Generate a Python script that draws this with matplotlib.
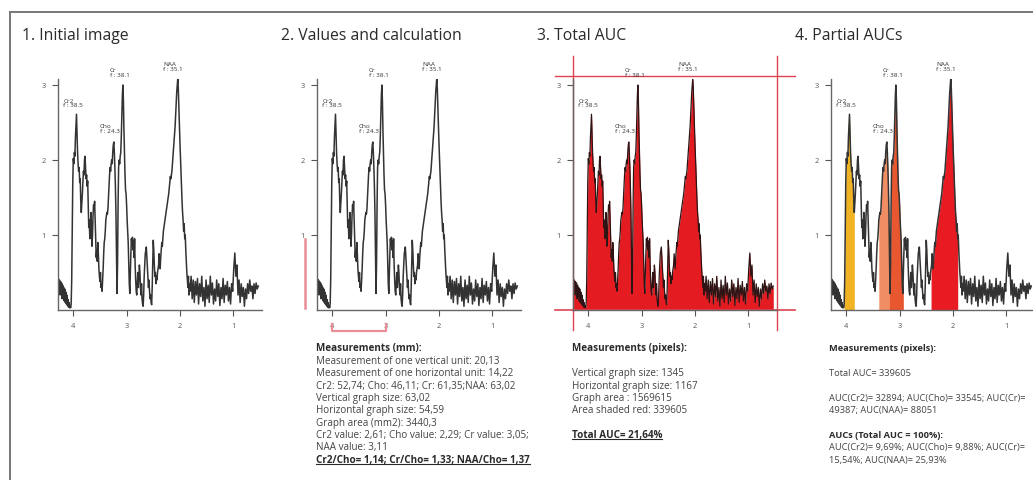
import matplotlib
matplotlib.use("Agg")
import matplotlib.pyplot as plt
import matplotlib.transforms as mtransforms
from matplotlib.lines import Line2D
import numpy as np

plt.rcParams['font.family'] = ['Open Sans', 'DejaVu Sans']

W, H = 1033, 481

# ---------------- data ----------------
ppm_values = [
    4.29, 4.28, 4.27, 4.26, 4.25, 4.24, 4.23, 4.22, 4.21, 4.20,
    4.19, 4.18, 4.17, 4.16, 4.15, 4.14, 4.13, 4.12, 4.11, 4.10,
    4.09, 4.08, 4.07, 4.06, 4.05, 4.04, 4.03, 4.02, 4.01, 4.00,
    3.99, 3.98, 3.97, 3.96, 3.95, 3.94, 3.93, 3.92, 3.91, 3.90,
    3.89, 3.88, 3.87, 3.86, 3.85, 3.84, 3.83, 3.82, 3.81, 3.80,
    3.79, 3.78, 3.77, 3.76, 3.75, 3.74, 3.73, 3.72, 3.71, 3.70,
    3.69, 3.68, 3.67, 3.66, 3.65, 3.64, 3.63, 3.62, 3.61, 3.60,
    3.59, 3.58, 3.57, 3.56, 3.55, 3.54, 3.53, 3.52, 3.51, 3.50,
    3.49, 3.48, 3.47, 3.46, 3.45, 3.44, 3.43, 3.42, 3.41, 3.40,
    3.39, 3.38, 3.37, 3.36, 3.35, 3.34, 3.33, 3.32, 3.31, 3.30,
    3.29, 3.28, 3.27, 3.26, 3.25, 3.24, 3.23, 3.22, 3.21, 3.20,
    3.19, 3.18, 3.17, 3.16, 3.15, 3.14, 3.13, 3.12, 3.11, 3.10,
    3.09, 3.08, 3.07, 3.06, 3.05, 3.04, 3.03, 3.02, 3.01, 3.00,
    2.99, 2.98, 2.97, 2.96, 2.95, 2.94, 2.93, 2.92, 2.91, 2.90,
    2.89, 2.88, 2.87, 2.86, 2.85, 2.84, 2.83, 2.82, 2.81, 2.80,
    2.79, 2.78, 2.77, 2.76, 2.75, 2.74, 2.73, 2.72, 2.71, 2.70,
    2.69, 2.68, 2.67, 2.66, 2.65, 2.64, 2.63, 2.62, 2.61, 2.60,
    2.59, 2.58, 2.57, 2.56, 2.55, 2.54, 2.53, 2.52, 2.51, 2.50,
    2.49, 2.48, 2.47, 2.46, 2.45, 2.44, 2.43, 2.42, 2.41, 2.40,
    2.39, 2.38, 2.37, 2.36, 2.35, 2.34, 2.33, 2.32, 2.31, 2.30,
    2.29, 2.28, 2.27, 2.26, 2.25, 2.24, 2.23, 2.22, 2.21, 2.20,
    2.19, 2.18, 2.17, 2.16, 2.15, 2.14, 2.13, 2.12, 2.11, 2.10,
    2.09, 2.08, 2.07, 2.06, 2.05, 2.04, 2.03, 2.02, 2.01, 2.00,
    1.99, 1.98, 1.97, 1.96, 1.95, 1.94, 1.93, 1.92, 1.91, 1.90,
    1.89, 1.88, 1.87, 1.86, 1.85, 1.84, 1.83, 1.82, 1.81,
    1.79, 1.77, 1.75, 1.73, 1.71, 1.69, 1.67, 1.65, 1.63, 1.61,
    1.59, 1.57, 1.55, 1.53, 1.51, 1.49, 1.47, 1.45, 1.43, 1.41,
    1.39, 1.37, 1.35, 1.33, 1.31, 1.29, 1.27, 1.25, 1.23, 1.21,
    1.19, 1.17, 1.15, 1.13, 1.11, 1.09, 1.07, 1.05, 1.03, 1.01,
    0.99, 0.97, 0.95, 0.93, 0.91, 0.89, 0.87, 0.85, 0.83, 0.81,
    0.79, 0.77, 0.75, 0.73, 0.71, 0.69, 0.67, 0.65, 0.63, 0.61,
    0.59, 0.57, 0.55, 0.53,
]

intensity_values = [
    0.28, 0.42, 0.25, 0.40, 0.20, 0.38, 0.22, 0.36, 0.15, 0.33,
    0.18, 0.30, 0.12, 0.28, 0.10, 0.24, 0.08, 0.20, 0.06, 0.14,
    0.04, 0.10, 0.03, 0.06, 0.03, 0.08, 0.40, 1.00, 1.70, 2.02,
    1.95, 2.10, 2.05, 2.30, 2.45, 2.61, 2.35, 2.10, 1.95, 1.85,
    1.90, 1.70, 1.75, 1.45, 1.30, 1.42, 1.55, 1.70, 1.85, 1.80,
    2.00, 2.05, 1.90, 1.75, 1.80, 1.65, 1.72, 1.40, 1.10, 1.20,
    0.95, 1.05, 1.30, 1.15, 0.85, 1.00, 1.25, 1.40, 1.35, 1.45,
    1.20, 0.95, 0.70, 0.80, 0.65, 0.90, 0.75, 0.55, 0.45, 0.38,
    0.50, 0.30, 0.35, 0.25, 0.40, 0.55, 0.75, 0.90, 0.95, 1.05,
    1.20, 1.25, 1.30, 1.28, 1.35, 1.50, 1.65, 1.80, 1.90, 1.85,
    1.95, 2.00, 1.95, 2.10, 2.20, 2.24, 2.10, 1.90, 1.65, 1.30,
    0.70, 0.22, 0.60, 1.40, 1.90, 2.00, 1.95, 2.05, 2.10, 2.30,
    2.60, 2.85, 3.00, 2.80, 2.40, 2.10, 1.80, 1.60, 1.55, 1.40,
    1.20, 1.05, 0.90, 0.60, 0.35, 0.22, 0.50, 0.75, 0.95, 0.85,
    0.97, 0.80, 0.92, 0.70, 0.95, 0.60, 0.40, 0.25, 0.20, 0.35,
    0.50, 0.30, 0.45, 0.60, 0.50, 0.30, 0.20, 0.35, 0.15, 0.08,
    0.05, 0.20, 0.45, 0.60, 0.75, 0.80, 0.84, 0.70, 0.55, 0.44,
    0.30, 0.40, 0.25, 0.15, 0.20, 0.10, 0.07, 0.30, 0.65, 0.93,
    0.80, 0.60, 0.45, 0.50, 0.35, 0.45, 0.40, 0.50, 0.55, 0.60,
    0.75, 0.65, 0.55, 0.70, 0.80, 0.90, 0.85, 0.95, 1.05, 1.10,
    1.15, 1.20, 1.25, 1.30, 1.35, 1.40, 1.45, 1.50, 1.55, 1.62,
    1.70, 1.78, 1.75, 1.80, 1.85, 1.95, 2.05, 2.15, 2.25, 2.35,
    2.45, 2.60, 2.75, 2.90, 3.00, 3.09, 2.95, 2.70, 2.45, 2.25,
    2.05, 1.85, 1.65, 1.45, 1.30, 1.20, 1.05, 1.15, 0.95, 1.00,
    0.80, 0.65, 0.50, 0.40, 0.30, 0.45, 0.20, 0.35, 0.25,
    0.45, 0.15, 0.40, 0.10, 0.38, 0.20, 0.42, 0.08, 0.35, 0.18,
    0.45, 0.12, 0.30, 0.05, 0.40, 0.15, 0.33, 0.10, 0.45, 0.20,
    0.36, 0.08, 0.28, 0.12, 0.40, 0.18, 0.35, 0.06, 0.30, 0.15,
    0.42, 0.10, 0.33, 0.20, 0.38, 0.12, 0.30, 0.08, 0.35, 0.25,
    0.55, 0.76, 0.45, 0.60, 0.20, 0.40, 0.10, 0.35, 0.18, 0.30,
    0.05, 0.28, 0.15, 0.35, 0.22, 0.40, 0.25, 0.32, 0.15, 0.35,
    0.22, 0.36, 0.28, 0.32,
]

peak_names = ["Cr2", "Cho", "Cr", "NAA"]
peak_f = ["38.5", "24.3", "38.1", "35.1"]
peak_label_ppm = [4.19, 3.50, 3.31, 2.31]
peak_label_val = [2.70, 2.36, 3.11, 3.19]

x_ticks = [4, 3, 2, 1]
y_ticks = [1, 2, 3]

partial_ranges = [(4.04, 3.85), (3.39, 3.19), (3.19, 2.93), (2.41, 1.91)]
partial_colors = ["#f0b323", "#f08d62", "#e8572f", "#e81b22"]

titles = ["1. Initial image", "2. Values and calculation", "3. Total AUC", "4. Partial AUCs"]

text_panel2 = [
    ("Measurements (mm):", "bold"),
    ("Measurement of one vertical unit: 20,13", "normal"),
    ("Measurement of one horizontal unit: 14,22", "normal"),
    ("Cr2: 52,74; Cho: 46,11; Cr: 61,35;NAA: 63,02", "normal"),
    ("Vertical graph size: 63,02", "normal"),
    ("Horizontal graph size: 54,59", "normal"),
    ("Graph area (mm2): 3440,3", "normal"),
    ("Cr2 value: 2,61; Cho value: 2,29; Cr value: 3,05;", "normal"),
    ("NAA value: 3,11", "normal"),
    ("Cr2/Cho= 1,14; Cr/Cho= 1,33; NAA/Cho= 1,37", "underline"),
]
text_panel3 = [
    ("Measurements (pixels):", "bold"),
    ("", "normal"),
    ("Vertical graph size: 1345", "normal"),
    ("Horizontal graph size: 1167", "normal"),
    ("Graph area : 1569615", "normal"),
    ("Area shaded red: 339605", "normal"),
    ("", "normal"),
    ("Total AUC= 21,64%", "underline"),
]
text_panel4 = [
    ("Measurements (pixels):", "bold"),
    ("", "normal"),
    ("Total AUC= 339605", "normal"),
    ("", "normal"),
    ("AUC(Cr2)= 32894; AUC(Cho)= 33545; AUC(Cr)=", "normal"),
    ("49387; AUC(NAA)= 88051", "normal"),
    ("", "normal"),
    ("AUCs (Total AUC = 100%):", "bold"),
    ("AUC(Cr2)= 9,69%; AUC(Cho)= 9,88%; AUC(Cr)=", "normal"),
    ("15,54%; AUC(NAA)= 25,93%", "normal"),
]

# ---------------- figure ----------------
fig = plt.figure(figsize=(W / 100, H / 100), dpi=100)
fig.patch.set_facecolor("white")

ppm = np.array(ppm_values)
inten = np.array(intensity_values)

LINE_C = "#333333"
AX_BOTTOM = 311
AX_H = 231
AX_W = 204
panel_left = [58, 317, 573, 831]
title_x = [22, 281, 537, 795]
XL = (4.287, 0.46)
YL = (0, 3.08)


def make_axes(left_px):
    ax = fig.add_axes([left_px / W, (H - AX_BOTTOM) / H, AX_W / W, AX_H / H])
    ax.set_xlim(*XL)
    ax.set_ylim(*YL)
    ax.patch.set_alpha(0)
    for s in ["top", "right"]:
        ax.spines[s].set_visible(False)
    for s in ["left", "bottom"]:
        ax.spines[s].set_color("#666666")
        ax.spines[s].set_linewidth(1.0)
    ax.set_xticks(x_ticks)
    ax.set_yticks(y_ticks)
    ax.set_xticklabels([str(t) for t in x_ticks])
    ax.set_yticklabels([str(t) for t in y_ticks])
    ax.tick_params(direction="out", length=4, width=0.8, colors="#555555",
                   labelsize=5.3, pad=5)
    return ax


def peak_labels(ax):
    for name, f, xp, yv in zip(peak_names, peak_f, peak_label_ppm, peak_label_val):
        ax.text(xp, yv, f"{name}\nf : {f}", fontsize=4.6, ha="left", va="bottom",
                color="#333333", linespacing=0.95, clip_on=False)


axes = [make_axes(l) for l in panel_left]

# Panel 1
ax1 = axes[0]
ax1.plot(ppm, inten, color=LINE_C, lw=1.1)
peak_labels(ax1)

# Panel 2
ax2 = axes[1]
ax2.plot(ppm, inten, color=LINE_C, lw=1.1)
peak_labels(ax2)
pink = "#e98e97"
trans2 = mtransforms.blended_transform_factory(ax2.transAxes, ax2.transData)
ax2.plot([-0.059, -0.059], [0.03, 0.95], color=pink, lw=1.8, transform=trans2, clip_on=False)
trans2b = mtransforms.blended_transform_factory(ax2.transData, ax2.transAxes)
ax2.plot([4.0, 4.0, 3.0, 3.0], [-0.06, -0.092, -0.092, -0.06], color=pink, lw=1.6,
         transform=trans2b, clip_on=False)

# Panel 3
ax3 = axes[2]
ax3.fill_between(ppm, 0, inten, color="#e41c22", lw=0)
ax3.plot(ppm, inten, color="#2e1414", lw=0.9)
peak_labels(ax3)
red_line = "#dd4452"
ax3.axvline(XL[0], ymin=-0.085, ymax=1.10, color=red_line, lw=1.0, clip_on=False)
ax3.axvline(XL[1], ymin=-0.085, ymax=1.10, color=red_line, lw=1.0, clip_on=False)
ax3.axhline(3.12, xmin=-0.09, xmax=1.09, color=red_line, lw=1.0, clip_on=False)
ax3.axhline(0.0, xmin=-0.09, xmax=1.09, color=red_line, lw=1.2, clip_on=False)

# Panel 4
ax4 = axes[3]
for (hi, lo), c in zip(partial_ranges, partial_colors):
    m = (ppm <= hi) & (ppm >= lo)
    ax4.fill_between(ppm[m], 0, inten[m], color=c, lw=0)
ax4.plot(ppm, inten, color=LINE_C, lw=1.1)
peak_labels(ax4)

# Frame
fig.add_artist(Line2D([10 / W, 10 / W], [0, (H - 13) / H], color="#777777", lw=1.4))
fig.add_artist(Line2D([10 / W, 1.0], [(H - 13) / H, (H - 13) / H], color="#777777", lw=1.4))

# Titles
for tx, t in zip(title_x, titles):
    fig.text(tx / W, (H - 36) / H, t, fontsize=11.3, color="#2a2a2a", va="center", ha="left")

# Text blocks
underline_texts = []


def text_block(x_px, y0_px, lines, size=7.1, spacing=12.35):
    for i, (s, style) in enumerate(lines):
        if not s:
            continue
        y = y0_px + i * spacing
        weight = "bold" if style in ("bold", "underline") else "normal"
        color = "#2a2a2a" if weight == "bold" else "#444444"
        t = fig.text(x_px / W, (H - y) / H, s, fontsize=size, color=color,
                     fontweight=weight, va="center", ha="left")
        if style == "underline":
            underline_texts.append(t)


text_block(316, 349, text_panel2)
text_block(572, 349, text_panel3)
text_block(829, 349, text_panel4, size=6.7)

fig.canvas.draw()
renderer = fig.canvas.get_renderer()
for t in underline_texts:
    bb = t.get_window_extent(renderer)
    yline = bb.y0 + 0.5
    fig.add_artist(Line2D([bb.x0 / W, bb.x1 / W], [yline / H, yline / H],
                          color="#2a2a2a", lw=0.8))

fig.savefig("out.png", dpi=100, facecolor="white")
